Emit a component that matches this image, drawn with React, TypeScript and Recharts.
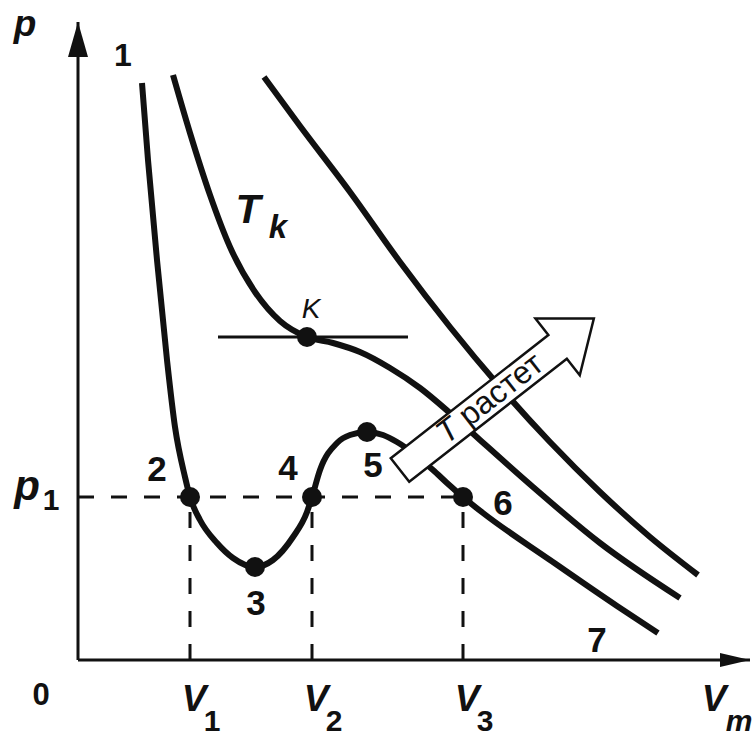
import { LineChart, Line, XAxis, YAxis, ReferenceLine, ReferenceDot } from "recharts";

// Isotherms as (v, p) pairs; v and p count from the corner of the axes.
const CURVE_LOW = [
  { v: 64, p: 577 }, { v: 70, p: 500 }, { v: 79, p: 400 }, { v: 89, p: 300 },
  { v: 97, p: 233 }, { v: 107, p: 183 }, { v: 112, p: 163 }, { v: 122, p: 140 },
  { v: 139, p: 117 }, { v: 155, p: 102 }, { v: 177, p: 93 }, { v: 195, p: 100 },
  { v: 215, p: 123 }, { v: 229, p: 148 }, { v: 234, p: 163 }, { v: 242, p: 190 },
  { v: 259, p: 217 }, { v: 272, p: 225 }, { v: 289, p: 228 }, { v: 305, p: 225 },
  { v: 319, p: 218 }, { v: 355, p: 190 }, { v: 369, p: 177 }, { v: 385, p: 163 },
  { v: 405, p: 147 }, { v: 472, p: 100 }, { v: 539, p: 54 }, { v: 580, p: 27 },
];

const CURVE_CRIT = [
  { v: 95, p: 585 }, { v: 112, p: 527 }, { v: 132, p: 465 }, { v: 152, p: 413 },
  { v: 177, p: 368 }, { v: 202, p: 339 }, { v: 229, p: 323 }, { v: 255, p: 317 },
  { v: 282, p: 308 }, { v: 312, p: 292 }, { v: 342, p: 272 }, { v: 372, p: 247 },
  { v: 402, p: 220 }, { v: 455, p: 173 }, { v: 522, p: 117 }, { v: 602, p: 62 },
];

const CURVE_HIGH = [
  { v: 186, p: 583 }, { v: 222, p: 534 }, { v: 272, p: 468 }, { v: 322, p: 398 },
  { v: 372, p: 333 }, { v: 422, p: 273 }, { v: 472, p: 218 }, { v: 522, p: 168 },
  { v: 572, p: 123 }, { v: 620, p: 85 },
];

const V1 = 112;
const V2 = 234;
const V3 = 385;
const V_MAX = 672;
const P1 = 163;
const P_MAX = 638;

const K_POINT = { v: 229, p: 323 };
const TANGENT_FROM = 140;
const TANGENT_TO = 330;

// numbered states on the lowest isotherm, plus the critical point
const MARKED = [
  { id: "2", v: V1, p: P1 },
  { id: "3", v: 177, p: 93 },
  { id: "4", v: V2, p: P1 },
  { id: "5", v: 289, p: 228 },
  { id: "6", v: V3, p: P1 },
  { id: "K", v: K_POINT.v, p: K_POINT.p },
];

const X_TICKS = [0, V1, V2, V3, V_MAX];
const X_TICK_TEXT: Record<number, [string, string]> = {
  0: ["0", ""],
  [V1]: ["V", "1"],
  [V2]: ["V", "2"],
  [V3]: ["V", "3"],
  [V_MAX]: ["V", "m"],
};
const Y_TICKS = [P1, P_MAX];
const Y_TICK_TEXT: Record<number, [string, string]> = {
  [P1]: ["p", "1"],
  [P_MAX]: ["p", ""],
};

const ARROW_TAIL = { v: 322, p: 190 };
const ARROW_TEXT = "растет";

const FONT = "Liberation Sans, Arial, sans-serif";
const INK = "#111";

const XTick = ({ x, y, payload }: any) => {
  const [main, sub] = X_TICK_TEXT[payload.value] || ["", ""];
  if (main === "0") {
    return (
      <text x={x - 37} y={y + 45} textAnchor="middle" fontFamily={FONT} fontWeight="bold" fontSize={31} fill={INK}>
        0
      </text>
    );
  }
  const end = payload.value === V_MAX;
  const mx = end ? x - 36 : x + 4;
  const sx = end ? x - 11 : x + 22;
  return (
    <g fontFamily={FONT} fontWeight="bold" fill={INK}>
      <text x={mx} y={y + 51} textAnchor="middle" fontStyle="italic" fontSize={37}>{main}</text>
      <text x={sx} y={y + 71} textAnchor="middle" fontStyle={end ? "italic" : "normal"} fontSize={30}>{sub}</text>
    </g>
  );
};

const YTick = ({ x, y, payload }: any) => {
  const [main, sub] = Y_TICK_TEXT[payload.value] || ["", ""];
  const top = sub === "";
  return (
    <g fontFamily={FONT} fontWeight="bold" fill={INK}>
      <text x={top ? x - 53 : x - 51} y={top ? y + 14 : y + 3} textAnchor="middle" fontStyle="italic" fontSize={top ? 37 : 42}>{main}</text>
      {sub && <text x={x - 27} y={y + 13} textAnchor="middle" fontSize={30}>{sub}</text>}
    </g>
  );
};

// label offsets from each marked point
const MARK_LABEL: Record<string, [number, number]> = {
  "2": [-33, -16],
  "3": [1, 48],
  "4": [-24, -17],
  "5": [6, 45],
  "6": [40, 18],
  K: [4, -19],
};

const markShape = (id: string) => ({ cx, cy }: any) => {
  const [dx, dy] = MARK_LABEL[id];
  const isK = id === "K";
  return (
    <g>
      <circle cx={cx} cy={cy} r={10} fill={INK} />
      <text
        x={cx + dx}
        y={cy + dy}
        textAnchor="middle"
        fontFamily={FONT}
        fontWeight={isK ? "normal" : "bold"}
        fontStyle={isK ? "italic" : "normal"}
        fontSize={isK ? 28 : 35}
        fill={INK}
      >
        {id}
      </text>
    </g>
  );
};

const xArrowHead = ({ cx, cy }: any) => (
  <polygon points={`${cx},${cy} ${cx - 30},${cy - 7} ${cx - 30},${cy + 7}`} fill={INK} />
);
const yArrowHead = ({ cx, cy }: any) => (
  <polygon points={`${cx},${cy} ${cx - 10},${cy + 35} ${cx + 10},${cy + 35}`} fill={INK} />
);

const TrendArrow = ({ cx, cy }: any) => (
  <g transform={`translate(${cx},${cy}) rotate(-38)`}>
    <polygon
      points="0,-15 200,-15 200,-36 246,0 200,36 200,15 0,15"
      fill="#fff"
      stroke={INK}
      strokeWidth={2.5}
    />
    <text x={52} y={9} fontFamily={FONT} fontSize={32} fill={INK}>
      <tspan fontStyle="italic">T</tspan> {ARROW_TEXT}
    </text>
  </g>
);

const curveLabel = (kind: "one" | "seven" | "tk") => ({ cx, cy }: any) => {
  if (kind === "one")
    return <text x={cx - 19} y={cy - 17} textAnchor="middle" fontFamily={FONT} fontWeight="bold" fontSize={32} fill={INK}>1</text>;
  if (kind === "seven")
    return <text x={cx - 61} y={cy + 19} textAnchor="middle" fontFamily={FONT} fontWeight="bold" fontSize={35} fill={INK}>7</text>;
  return (
    <g fontFamily={FONT} fontWeight="bold" fontStyle="italic" fill={INK}>
      <text x={cx + 18} y={cy - 24} textAnchor="middle" fontSize={41}>T</text>
      <text x={cx + 48} y={cy - 9} textAnchor="middle" fontSize={33}>k</text>
    </g>
  );
};

export default function App() {
  const first = CURVE_LOW[0];
  const last = CURVE_LOW[CURVE_LOW.length - 1];
  const tkAnchor = CURVE_CRIT[3];
  return (
    <div style={{ position: "absolute", left: 0, top: 0, background: "#fff" }}>
      <LineChart width={752} height={738} margin={{ top: 22, right: 2, bottom: 48, left: 18 }}>
        <XAxis
          type="number"
          dataKey="v"
          domain={[0, V_MAX]}
          ticks={X_TICKS}
          interval={0}
          height={30}
          tickSize={0}
          tickMargin={0}
          tickLine={false}
          axisLine={{ stroke: INK, strokeWidth: 3 }}
          tick={<XTick />}
          allowDataOverflow
        />
        <YAxis
          type="number"
          dataKey="p"
          domain={[0, P_MAX]}
          ticks={Y_TICKS}
          interval={0}
          width={60}
          tickSize={0}
          tickMargin={0}
          tickLine={false}
          axisLine={{ stroke: INK, strokeWidth: 3 }}
          tick={<YTick />}
          allowDataOverflow
        />

        <Line data={CURVE_LOW} dataKey="p" type="monotone" stroke={INK} strokeWidth={6} dot={false} isAnimationActive={false} />
        <Line data={CURVE_CRIT} dataKey="p" type="monotone" stroke={INK} strokeWidth={6} dot={false} isAnimationActive={false} />
        <Line data={CURVE_HIGH} dataKey="p" type="monotone" stroke={INK} strokeWidth={6} dot={false} isAnimationActive={false} />

        <ReferenceLine segment={[{ x: 0, y: P1 }, { x: V3, y: P1 }]} stroke={INK} strokeWidth={3} strokeDasharray="16 17" />
        <ReferenceLine segment={[{ x: V1, y: 0 }, { x: V1, y: P1 }]} stroke={INK} strokeWidth={3} strokeDasharray="16 17" />
        <ReferenceLine segment={[{ x: V2, y: 0 }, { x: V2, y: P1 }]} stroke={INK} strokeWidth={3} strokeDasharray="16 17" />
        <ReferenceLine segment={[{ x: V3, y: 0 }, { x: V3, y: P1 }]} stroke={INK} strokeWidth={3} strokeDasharray="16 17" />
        <ReferenceLine segment={[{ x: TANGENT_FROM, y: K_POINT.p }, { x: TANGENT_TO, y: K_POINT.p }]} stroke={INK} strokeWidth={3} />

        <ReferenceDot x={ARROW_TAIL.v} y={ARROW_TAIL.p} shape={<TrendArrow />} ifOverflow="visible" />

        {MARKED.map((m) => (
          <ReferenceDot key={m.id} x={m.v} y={m.p} shape={markShape(m.id)} ifOverflow="visible" />
        ))}

        <ReferenceDot x={first.v} y={first.p} shape={curveLabel("one")} ifOverflow="visible" />
        <ReferenceDot x={last.v} y={last.p} shape={curveLabel("seven")} ifOverflow="visible" />
        <ReferenceDot x={tkAnchor.v} y={tkAnchor.p} shape={curveLabel("tk")} ifOverflow="visible" />

        <ReferenceDot x={V_MAX} y={0} shape={xArrowHead} ifOverflow="visible" />
        <ReferenceDot x={0} y={P_MAX} shape={yArrowHead} ifOverflow="visible" />
      </LineChart>
    </div>
  );
}
